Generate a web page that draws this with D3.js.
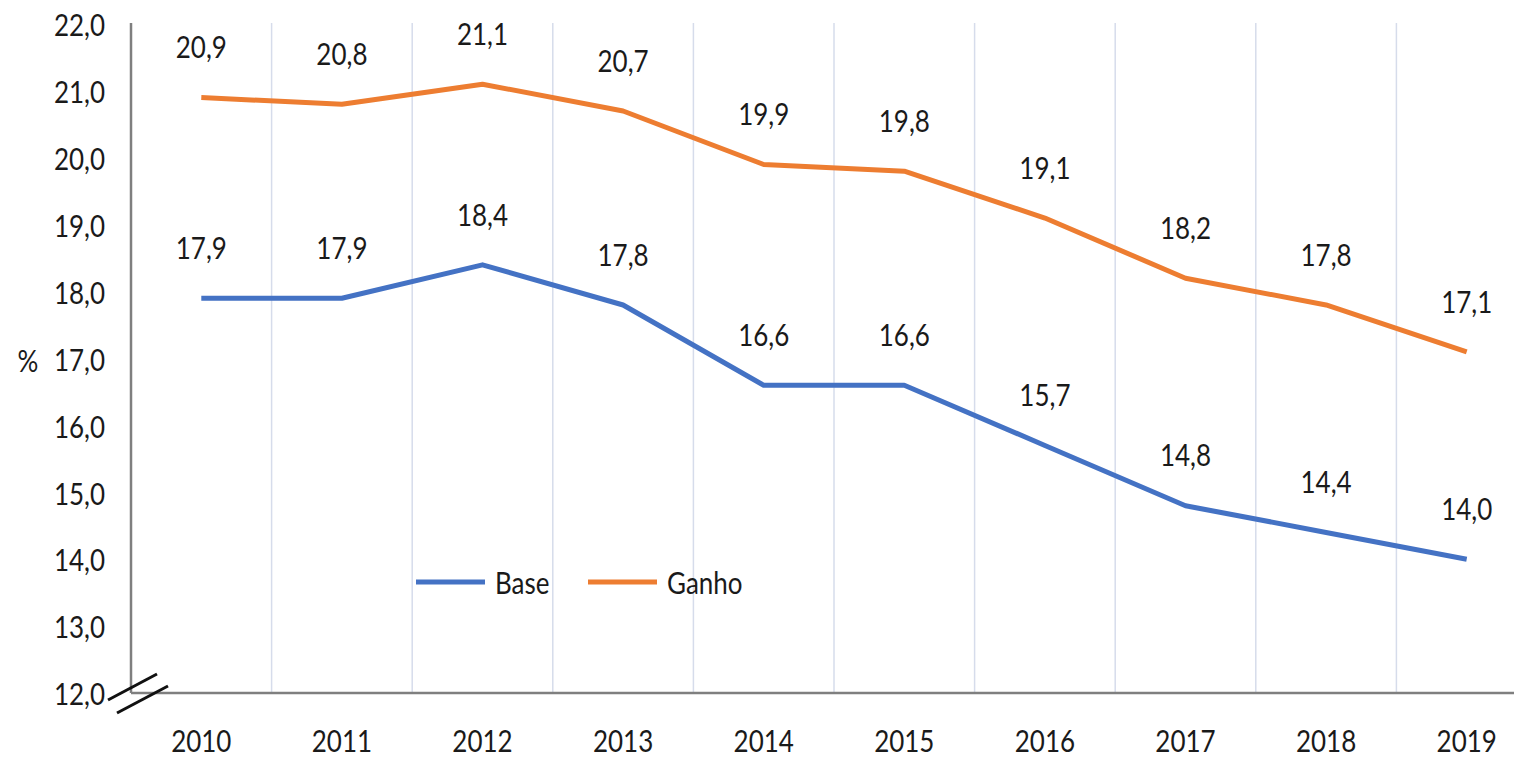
<!DOCTYPE html>
<html><head><meta charset="utf-8">
<script src="https://cdn.jsdelivr.net/npm/d3@7"></script>
<style>body{margin:0;background:#fff}svg{display:block}text{font-family:Lato,"Open Sans",sans-serif;fill:#1a1a1a}</style>
</head><body><svg id="c" width="1514" height="758"></svg>
<script>
const years = ["2010","2011","2012","2013","2014","2015","2016","2017","2018","2019"];
const base = [17.9,17.9,18.4,17.8,16.6,16.6,15.7,14.8,14.4,14.0];
const ganho = [20.9,20.8,21.1,20.7,19.9,19.8,19.1,18.2,17.8,17.1];
const yTicks = [12,13,14,15,16,17,18,19,20,21,22];
const seriesNames = ["Base","Ganho"];
const colors = ["#4472C4","#ED7D31"];

const FS = "26px", SY = 1.15;
const svg = d3.select("#c");
const x = d3.scaleBand().domain(years).range([131,1537]).padding(0);
const y = d3.scaleLinear().domain([12,22]).range([693,24]);
const fmt = v => d3.format(".1f")(v).replace(".",",");
const cx = i => x(years[i]) + x.bandwidth()/2;

// gridlines
svg.append("g").selectAll("line").data(years.slice(1)).join("line")
  .attr("x1",d=>x(d)).attr("x2",d=>x(d)).attr("y1",23).attr("y2",693)
  .attr("stroke","#D6DCEB").attr("stroke-width",1.5);

// y axis
const ya = svg.append("g").attr("transform","translate(131,0)")
  .call(d3.axisLeft(y).tickValues(yTicks).tickSize(0).tickPadding(26).tickFormat(fmt));
ya.select(".domain").remove();
ya.selectAll("text").style("font-size",FS).attr("fill","#1a1a1a")
  .attr("dy",null).attr("dominant-baseline","central").attr("transform",`scale(1,${SY})`);
svg.append("line").attr("x1",131).attr("x2",131).attr("y1",23).attr("y2",693)
  .attr("stroke","#7f7f7f").attr("stroke-width",2.5);

// x axis
const xa = svg.append("g").attr("transform","translate(0,693)")
  .call(d3.axisBottom(x).tickSize(0));
xa.select(".domain").remove();
xa.selectAll("text").style("font-size",FS).attr("fill","#1a1a1a")
  .attr("y",0).attr("dy",null).attr("dominant-baseline","central")
  .attr("transform",`translate(0,47) scale(1,${SY})`);
svg.append("line").attr("x1",131).attr("x2",1514).attr("y1",693).attr("y2",693)
  .attr("stroke","#7f7f7f").attr("stroke-width",2.5);

// axis break marks
svg.append("line").attr("x1",108).attr("y1",700).attr("x2",157).attr("y2",674).attr("stroke","#111").attr("stroke-width",3);
svg.append("line").attr("x1",117).attr("y1",713).attr("x2",168).attr("y2",686).attr("stroke","#111").attr("stroke-width",3);

function label(xp, yp, txt, anchor){
  return svg.append("text").attr("transform",`translate(${xp},${yp}) scale(1,${SY})`)
    .attr("text-anchor",anchor||"middle").attr("dominant-baseline","central")
    .style("font-size",FS).text(txt);
}

// % label
label(28, 360, "%");

const line = d3.line().x((d,i)=>cx(i)).y(d=>y(d));
[base,ganho].forEach((s,k)=>{
  svg.append("path").datum(s).attr("d",line).attr("fill","none")
    .attr("stroke",colors[k]).attr("stroke-width",5).attr("stroke-linejoin","round");
  s.forEach((d,i)=>label(cx(i), y(d)-51, fmt(d)));
});

// legend
const legX = [416,588];
seriesNames.forEach((n,k)=>{
  svg.append("line").attr("x1",legX[k]).attr("x2",legX[k]+69).attr("y1",582).attr("y2",582)
    .attr("stroke",colors[k]).attr("stroke-width",5);
  label(legX[k]+79, 582, n, "start");
});
</script></body></html>
